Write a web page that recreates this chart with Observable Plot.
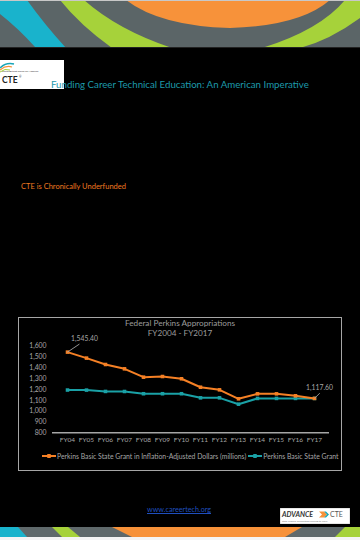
<!DOCTYPE html>
<html>
<head>
<meta charset="utf-8">
<script src="https://cdn.jsdelivr.net/npm/d3@7"></script>
<script src="https://cdn.jsdelivr.net/npm/@observablehq/plot@0.6"></script>
<style>
  html, body { margin: 0; padding: 0; background: #000; }
  #page { position: relative; width: 360px; height: 540px; background: #000; overflow: hidden; font-family: Lato, "Open Sans", sans-serif; }
  .abs { position: absolute; }
  #frame { left: 18px; top: 317px; width: 322px; height: 152px; border: 1px solid #a6a6a6; }
  #ctitle { left: 18px; top: 318px; width: 324px; text-align: center; color: #9c9c9c; font-size: 8.2px; line-height: 10px; }
  #chart { left: 18px; top: 338px; }
  #legend { left: 42px; top: 451px; color: #a6a6a6; font-size: 6.85px; white-space: nowrap; display: flex; align-items: center; }
  .sw { display: inline-block; position: relative; width: 14px; height: 9px; margin-right: 1px; }
  .sw::before { content: ""; position: absolute; left: 0; right: 0; top: 4px; height: 2px; background: var(--c); }
  .sw::after { content: ""; position: absolute; left: 5px; top: 3px; width: 4px; height: 4px; background: var(--c); border-radius: 1px; }
</style>
</head>
<body>
<div id="page">
  <svg class="abs" style="left:0;top:0" width="360" height="48" viewBox="0 0 360 48">
    <rect x="0" y="0" width="360" height="48" fill="#5b6567"/>
    <path d="M0,0 L27,0 Q45,25 66,48 L36,48 Q18,28 0,14 Z" fill="#19b3cc"/>
    <path d="M60,0 L84,0 Q118,30 172,48 L112,48 Q80,25 60,0 Z" fill="#a6d23a"/>
    <path d="M126,0 L330,0 Q300,26 230,28 Q160,26 126,0 Z" fill="#f7923a"/>
    <path d="M345,0 L360,0 L360,18 Q330,40 300,48 L262,48 Q320,30 345,0 Z" fill="#a6d23a"/>
    <rect x="0" y="0" width="360" height="1" fill="#c8c8c8"/>
    <rect x="0" y="47" width="360" height="1" fill="#222"/>
  </svg>

  <svg class="abs" style="left:0;top:60px" width="64" height="29" viewBox="0 0 64 29">
    <rect x="0" y="0" width="64" height="29" fill="#fff"/>
    <path d="M0,8 Q6,2 14,4" stroke="#19a5b8" stroke-width="1.5" fill="none"/>
    <path d="M0,10 Q6,5 12,7" stroke="#f7923a" stroke-width="1.2" fill="none"/>
    <path d="M0,12 Q5,8 10,10" stroke="#a6d23a" stroke-width="1" fill="none"/>
    <text x="2" y="11.5" font-size="2.6" fill="#333" font-family="Lato">Learning that works for America</text>
    <text x="2" y="23" font-size="8.5" font-weight="bold" fill="#222" font-family="Lato">CTE</text>
    <text x="19" y="18" font-size="3" fill="#222" font-family="Lato">®</text>
  </svg>

  <div class="abs" style="left:51px;top:78px;color:#1d9aab;font-size:9.7px;white-space:nowrap;">Funding Career Technical Education: An American Imperative</div>
  <div class="abs" style="left:21px;top:182px;color:#f07a21;font-size:7.5px;white-space:nowrap;">CTE is Chronically Underfunded</div>

  <div id="frame" class="abs"></div>
  <div id="ctitle" class="abs">Federal Perkins Appropriations<br>FY2004 - FY2017</div>
  <div id="chart" class="abs"></div>
  <div id="legend" class="abs">
    <span class="sw" style="--c:#f58025"></span><span>Perkins Basic State Grant in Inflation-Adjusted Dollars (millions)</span>
    <span class="sw" style="--c:#1aa1a6;margin-left:2px"></span><span>Perkins Basic State Grant</span>
  </div>

  <div class="abs" style="left:147px;top:505px;color:#1f4fbf;font-size:7.2px;text-decoration:underline;white-space:nowrap;">www.careertech.org</div>

  <svg class="abs" style="left:280px;top:508px" width="70" height="16" viewBox="0 0 70 16">
    <rect x="0" y="0" width="70" height="16" fill="#fff" stroke="#999" stroke-width="0.5"/>
    <text x="2" y="9" font-size="7" font-weight="bold" font-style="italic" fill="#333" font-family="Lato">ADVANCE</text>
    <path d="M39,3.5 L44,3.5 L47,6.5 L44,9.5 L39,9.5 L42,6.5 Z" fill="#f7923a"/>
    <path d="M44,3.5 L46,3.5 L49,6.5 L46,9.5 L44,9.5 L47,6.5 Z" fill="#19a5b8"/>
    <text x="50" y="9" font-size="7" fill="#555" font-family="Lato">CTE</text>
    <text x="2" y="14" font-size="2.4" fill="#777" font-family="Lato">State Leaders Connecting Learning to Work</text>
  </svg>

  <svg class="abs" style="left:0;top:527px" width="360" height="13" viewBox="0 0 360 13">
    <rect x="0" y="0" width="360" height="10" fill="#5f696b"/>
    <path d="M0,0 L18,0 L27,10 L0,10 Z" fill="#19b3cc"/>
    <path d="M52,0 L68,0 L80,10 L62,10 Z" fill="#a6d23a"/>
    <path d="M112,0 L302,0 L285,10 L132,10 Z" fill="#f7923a"/>
    <path d="M345,0 L360,0 L360,10 L335,10 Z" fill="#a6d23a"/>
    <rect x="0" y="10" width="360" height="3" fill="#f4f4f4"/>
  </svg>
</div>
<script>
const years = ["FY04","FY05","FY06","FY07","FY08","FY09","FY10","FY11","FY12","FY13","FY14","FY15","FY16","FY17"];
const adjusted = [1545.4, 1490, 1431, 1391, 1314, 1320, 1299, 1221, 1197, 1114, 1160, 1160, 1142, 1117.6];
const nominal = [1195.0, 1194.3, 1182.1, 1181.6, 1160.9, 1160.9, 1160.9, 1123.0, 1123.0, 1064.4, 1117.6, 1117.6, 1117.6, 1117.6];
const yTicks = [800, 900, 1000, 1100, 1200, 1300, 1400, 1500, 1600];
const labelPoints = ["FY04", "FY17"];
const labelValues = [1545.4, 1117.6];
const labelTexts = ["1,545.40", "1,117.60"];

const orange = "#f58025";
const teal = "#1aa1a6";

const rows = years.map((y, i) => ({year: y, adjusted: adjusted[i], nominal: nominal[i]}));
const notes = labelPoints.map((y, i) => ({year: y, value: labelValues[i], text: labelTexts[i]}));

const leader = {
  draw(context, l) { context.moveTo(0, 0); context.lineTo(0, -l); }
};

const chart = Plot.plot({
  width: 324,
  height: 110,
  marginLeft: 34,
  marginRight: 13,
  marginTop: 7.7,
  marginBottom: 15.7,
  style: {background: "transparent", color: "#a6a6a6", fontFamily: "Lato, 'Open Sans', sans-serif", fontSize: "6.8px", overflow: "visible"},
  x: {type: "point", domain: years, padding: 0.5, label: null, tickSize: 0, tickPadding: 5},
  y: {domain: [800, 1600], ticks: yTicks, tickFormat: d3.format(","), label: null, tickSize: 0, tickPadding: 6},
  marks: [
    Plot.ruleY([800], {stroke: "#a6a6a6", strokeWidth: 1.5}),
    Plot.line(rows, {x: "year", y: "nominal", stroke: teal, strokeWidth: 2}),
    Plot.dot(rows, {x: "year", y: "nominal", fill: teal, r: 2, symbol: "square"}),
    Plot.line(rows, {x: "year", y: "adjusted", stroke: orange, strokeWidth: 2}),
    Plot.dot(rows, {x: "year", y: "adjusted", fill: orange, r: 2, symbol: "square"}),
    Plot.vector(notes.slice(0, 1), {x: "year", y: "value", length: 14, rotate: 56, anchor: "start", shape: leader, stroke: "#a6a6a6", strokeWidth: 0.8}),
    Plot.vector(notes.slice(1), {x: "year", y: "value", length: 7, rotate: 45, anchor: "start", shape: leader, stroke: "#a6a6a6", strokeWidth: 0.8}),
    Plot.text(notes.slice(0, 1), {x: "year", y: "value", text: "text", dx: 17, dy: -13, fill: "#a6a6a6", fontSize: 6.8}),
    Plot.text(notes.slice(1), {x: "year", y: "value", text: "text", dx: 5, dy: -11, fill: "#a6a6a6", fontSize: 6.8})
  ]
});
d3.select(chart).selectAll('g[aria-label^="x-axis"] text').attr("font-size", "6.5px");
document.getElementById("chart").appendChild(chart);
</script>
</body>
</html>
